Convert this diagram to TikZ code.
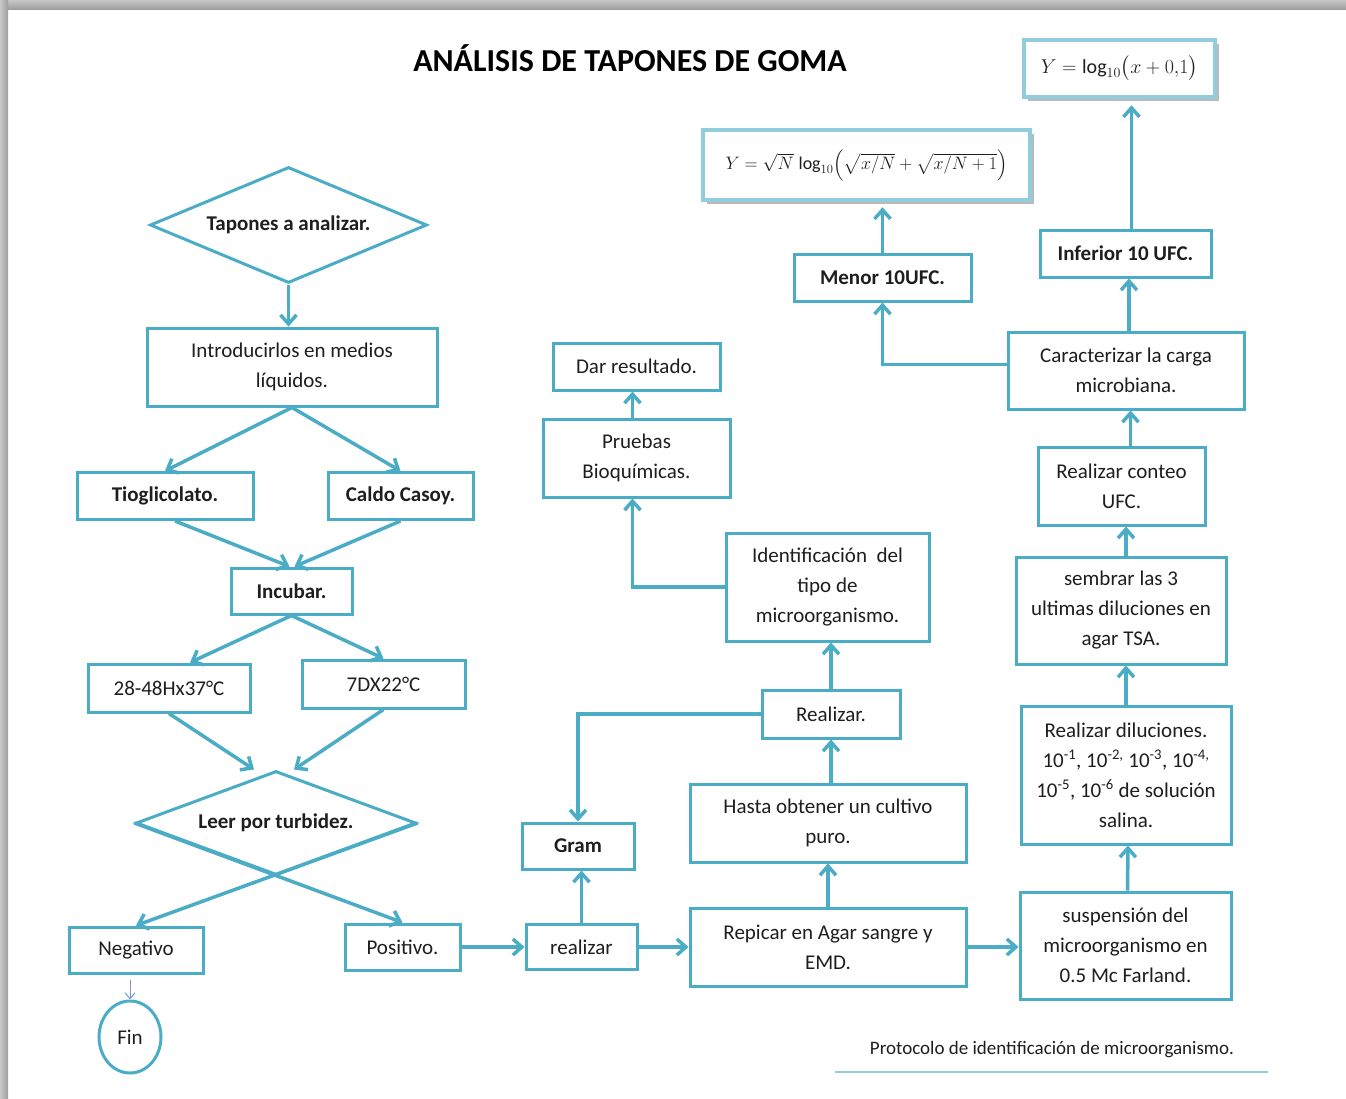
\RequirePackage{fix-cm}
\documentclass[tikz,border=0pt]{standalone}
\usepackage{amsmath}
\usepackage{fontspec}
\setmainfont{Carlito}
\usetikzlibrary{positioning,shapes.geometric,arrows.meta,shadows}
\definecolor{acc}{RGB}{75,172,198}
\definecolor{lacc}{RGB}{146,205,222}
\definecolor{finc}{RGB}{120,150,210}
\definecolor{txt}{RGB}{30,30,30}

\begin{document}
\begin{tikzpicture}[x=1pt,y=-1pt,
  box/.style={rectangle, draw=acc, line width=3pt, fill=white, inner sep=0pt, align=center, text=txt, font=\fontsize{21}{30}\selectfont},
  bbox/.style={box, font=\fontsize{21}{30}\selectfont\bfseries},
  dec/.style={diamond, draw=acc, line width=3pt, inner sep=0pt, align=center, text=txt, font=\fontsize{21}{30}\selectfont\bfseries},
  fbox/.style={rectangle, draw=lacc, line width=4.5pt, fill=white, inner sep=0pt, text=txt, font=\fontsize{20}{24}\selectfont,
    drop shadow={shadow xshift=4pt, shadow yshift=-4pt, opacity=0.45, fill=black!60}},
  go/.style={draw=acc, line width=3.5pt, -{Straight Barb[length=9pt,width=16pt]}},
]
\useasboundingbox (0,0) rectangle (1346,1098);
% page edge
\shade[top color=black!22, bottom color=black!38] (0,0) rectangle (1346,9);
\shade[left color=black!22, right color=black!38] (0,0) rectangle (8,1098);

\node (title) [text=black, font=\fontsize{32}{36}\selectfont\bfseries] at (630,58) {ANÁLISIS DE TAPONES DE GOMA};

% left column
\node (tapones) [dec, aspect=2.4, minimum width=277pt, minimum height=116pt] at (288.5,225) {Tapones a analizar.};
\node (intro) [box, minimum width=290pt, minimum height=78pt] at (292,367) {Introducirlos en medios\\líquidos.};
\node (tio) [bbox, minimum width=176pt, minimum height=47pt] at (165,496) {Tioglicolato.};
\node (caldo) [bbox, minimum width=145pt, minimum height=47pt] at (400.5,496) {Caldo Casoy.};
\node (incubar) [bbox, minimum width=121pt, minimum height=46pt] at (291.5,591) {Incubar.};
\node (t28) [box, minimum width=162pt, minimum height=48pt] at (169,688) {28-48Hx37°C};
\node (t7dx) [box, minimum width=163pt, minimum height=48pt] at (383.5,684) {7DX22°C};
\node (leer) [dec, aspect=2.7, minimum width=280pt, minimum height=104pt] at (276,823) {Leer por turbidez.};
\node (negativo) [box, minimum width=134pt, minimum height=46pt] at (136,950) {Negativo};
\node (positivo) [box, minimum width=115pt, minimum height=46pt] at (402.5,947) {Positivo.};
\node (fin) [ellipse, draw=acc, line width=3pt, inner sep=0pt, text=txt, font=\fontsize{21}{30}\selectfont, minimum width=62pt, minimum height=72pt] at (130,1037) {Fin};

% middle column
\node (realizar) [box, minimum width=111pt, minimum height=45pt] at (581.5,947) {realizar};
\node (gram) [bbox, minimum width=112pt, minimum height=46pt] at (578,846) {Gram};
\node (repicar) [box, minimum width=276pt, minimum height=78pt] at (828,947) {Repicar en Agar sangre y\\EMD.};
\node (hasta) [box, minimum width=276pt, minimum height=78pt] at (828,823) {Hasta obtener un cultivo\\puro.};
\node (realizarb) [box, minimum width=138pt, minimum height=48pt] at (831,714) {Realizar.};
\node (ident) [box, minimum width=203pt, minimum height=108pt] at (827.5,587) {Identificación~~del\\tipo de\\microorganismo.};
\node (pruebas) [box, minimum width=187pt, minimum height=78pt] at (636.5,458) {Pruebas\\Bioquímicas.};
\node (dar) [box, minimum width=167pt, minimum height=47pt] at (636.5,366.5) {Dar resultado.};

% right column
\node (susp) [box, minimum width=211pt, minimum height=107pt] at (1125.5,945.5) {suspensión del\\microorganismo en\\0.5 Mc Farland.};
\node (dil) [box, minimum width=210pt, minimum height=138pt] at (1126,775) {Realizar diluciones.\\10\textsuperscript{-1}, 10\textsuperscript{-2,} 10\textsuperscript{-3}, 10\textsuperscript{-4,}\\10\textsuperscript{-5}, 10\textsuperscript{-6} de solución\\salina.};
\node (sembrar) [box, minimum width=210pt, minimum height=107pt] at (1121,610.5) {sembrar las 3\\ultimas diluciones en\\agar TSA.};
\node (conteo) [box, minimum width=167pt, minimum height=78pt] at (1121.5,486) {Realizar conteo\\UFC.};
\node (caract) [box, minimum width=236pt, minimum height=77pt] at (1126,370.5) {Caracterizar la carga\\microbiana.};
\node (inferior) [bbox, minimum width=171pt, minimum height=47pt] at (1125.5,253.5) {Inferior 10 UFC.};
\node (menor) [bbox, minimum width=177pt, minimum height=47pt] at (882.5,277.5) {Menor 10UFC.};
\node (form1) [fbox, minimum width=327pt, minimum height=70pt, font=\fontsize{18}{22}\selectfont] at (866.5,165) {$Y=\sqrt{N}\;\mbox{log}_{10}\Bigl(\sqrt{x/N}+\sqrt{x/N+1}\Bigr)$};
\node (form2) [fbox, minimum width=191pt, minimum height=57pt] at (1119.5,68.5) {$Y=\mbox{log}_{10}\bigl(x+0{,}1\bigr)$};

\node (footer) [text=txt, font=\fontsize{19}{22}\selectfont] at (1052,1050) {Protocolo de identificación de microorganismo.};
\draw [lacc, line width=2pt] (835,1072) -- (1268,1072);

% connectors
\draw [go] (tapones.south) -- (tapones.south |- intro.north);
\draw [go] (intro.south) -- (tio.north);
\draw [go] (intro.south) -- (caldo.north);
\draw [go] ([xshift=10pt]tio.south) -- ([xshift=-2pt]incubar.north);
\draw [go] (caldo.south) -- ([xshift=3pt]incubar.north);
\draw [go] (incubar.south) -- ([xshift=21pt]t28.north);
\draw [go] (incubar.south) -- (t7dx.north);
\draw [go] (t28.south) -- ([xshift=-22pt]leer.north);
\draw [go] (t7dx.south) -- ([xshift=18pt]leer.north);
\draw [go] (leer.west) -- (positivo.north);
\draw [go] (leer.east) -- (negativo.north);
\draw [finc, line width=1pt, -{Straight Barb[length=6pt,width=10pt]}, shorten <=5pt] (fin.north |- negativo.south) -- (fin.north);
\draw [go] (positivo.east) -- (positivo.east -| realizar.west);
\draw [go] (realizar.north) -- (realizar.north |- gram.south);
\draw [go] (realizar.east) -- (realizar.east -| repicar.west);
\draw [go] (repicar.north) -- (hasta.south);
\draw [go] (realizarb.south |- hasta.north) -- (realizarb.south);
\draw [go] (realizarb.west) -| (gram.north);
\draw [go] (realizarb.north) -- (realizarb.north |- ident.south);
\draw [go] (ident.west) -| ([xshift=-4pt]pruebas.south);
\draw [go] ([xshift=-4pt]pruebas.north) -- ([xshift=-4pt]dar.south);
\draw [go] (repicar.east) -- (repicar.east -| susp.west);
\draw [go] ([xshift=2pt]susp.north) -- ([xshift=2pt]dil.south);
\draw [go] (dil.north) -- (dil.north |- sembrar.south);
\draw [go] ([xshift=5pt]sembrar.north) -- ([xshift=5pt]sembrar.north |- conteo.south);
\draw [go] ([xshift=9pt]conteo.north) -- ([xshift=9pt]conteo.north |- caract.south);
\draw [go] ([xshift=3pt]caract.north) -- ([xshift=3pt]caract.north |- inferior.south);
\draw [go, shorten >=6pt] ([xshift=6pt]inferior.north) -- ([xshift=6pt]inferior.north |- form2.south);
\draw [go] ([yshift=6pt]caract.west) -| (menor.south);
\draw [go, shorten >=5pt] (menor.north) -- (menor.north |- form1.south);
\end{tikzpicture}
\end{document}
